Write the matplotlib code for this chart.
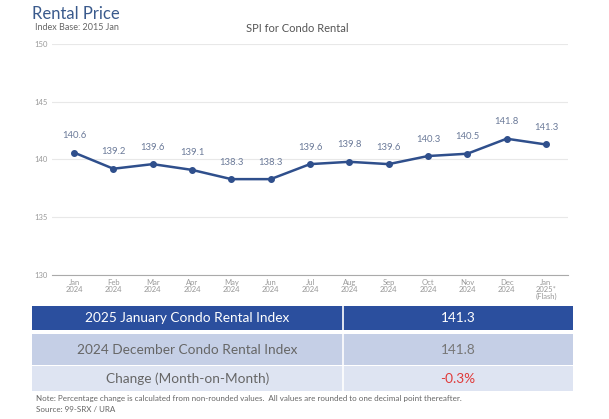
import matplotlib.pyplot as plt
from matplotlib.patches import Rectangle

plt.rcParams['font.family'] = ['Lato', 'DejaVu Sans']

months = ["Jan\n2024", "Feb\n2024", "Mar\n2024", "Apr\n2024", "May\n2024", "Jun\n2024",
          "Jul\n2024", "Aug\n2024", "Sep\n2024", "Oct\n2024", "Nov\n2024", "Dec\n2024",
          "Jan\n2025*\n(Flash)"]
spi = [140.6, 139.2, 139.6, 139.1, 138.3, 138.3, 139.6, 139.8, 139.6, 140.3, 140.5, 141.8, 141.3]
y_ticks = [130, 135, 140, 145, 150]

table_rows = [
    ("2025 January Condo Rental Index", "141.3"),
    ("2024 December Condo Rental Index", "141.8"),
    ("Change (Month-on-Month)", "-0.3%"),
]

W, H = 609, 419
line_col = "#2F4F8C"

fig = plt.figure(figsize=(W / 100, H / 100), dpi=100)


def fx(px):
    return px / W


def fy(py):
    return 1 - py / H


ax = fig.add_axes([fx(52), fy(275), fx(568) - fx(52), fy(44) - fy(275)])
xs = list(range(len(spi)))
ax.plot(xs, spi, color=line_col, lw=1.8, marker="o", ms=4, zorder=3)
for x, v in zip(xs, spi):
    ax.annotate(f"{v:.1f}", (x, v), xytext=(0, 9), textcoords="offset points",
                ha="center", va="bottom", fontsize=6.8, color="#6B7A99")

ax.set_xlim(-0.56, 12.56)
ax.set_ylim(130, 150)
ax.set_yticks(y_ticks)
ax.set_yticklabels([str(t) for t in y_ticks], fontsize=5.5, color="#999999")
ax.set_xticks(xs)
ax.set_xticklabels(months, fontsize=5.5, color="#999999", linespacing=1.0)
ax.tick_params(axis="both", length=0, pad=3)
ax.grid(axis="y", color="#E8E8E8", lw=0.8)
ax.set_axisbelow(True)
for s in ["top", "right", "left"]:
    ax.spines[s].set_visible(False)
ax.spines["bottom"].set_color("#AAAAAA")
ax.spines["bottom"].set_linewidth(0.8)

# titles
fig.text(fx(32), fy(14), "Rental Price", fontsize=12, color="#3A5A8C", va="center")
fig.text(fx(35), fy(27), "Index Base: 2015 Jan", fontsize=6.5, color="#666666", va="center")
fig.text(fx(297), fy(28), "SPI for Condo Rental", fontsize=8, color="#555555",
         ha="center", va="center")

# table
left, mid, right = 32, 343, 573
rows_px = [(306, 330), (334, 365), (366, 391)]
fills = ["#2B4F9E", "#C5CFE6", "#DEE4F2"]
txt_cols = [("white", "white"), ("#666666", "#777777"), ("#666666", "#E03A3A")]
for (lab, val), (t, b), fc, (c1, c2) in zip(table_rows, rows_px, fills, txt_cols):
    fig.patches.append(Rectangle((fx(left), fy(b)), fx(right) - fx(left), fy(t) - fy(b),
                                 transform=fig.transFigure, facecolor=fc, edgecolor="none"))
    cy = fy((t + b) / 2)
    fig.text(fx((left + mid) / 2), cy, lab, fontsize=9.8, color=c1, ha="center", va="center")
    fig.text(fx((mid + right) / 2), cy, val, fontsize=9.8, color=c2, ha="center", va="center")
    fig.add_artist(plt.Line2D([fx(mid), fx(mid)], [fy(b), fy(t)], color="white", lw=1.2,
                              transform=fig.transFigure))

fig.text(fx(36), fy(398), "Note: Percentage change is calculated from non-rounded values.  "
         "All values are rounded to one decimal point thereafter.",
         fontsize=5.8, color="#666666", va="center")
fig.text(fx(36), fy(409), "Source: 99-SRX / URA", fontsize=5.8, color="#666666", va="center")

fig.savefig("out.png", dpi=100)
